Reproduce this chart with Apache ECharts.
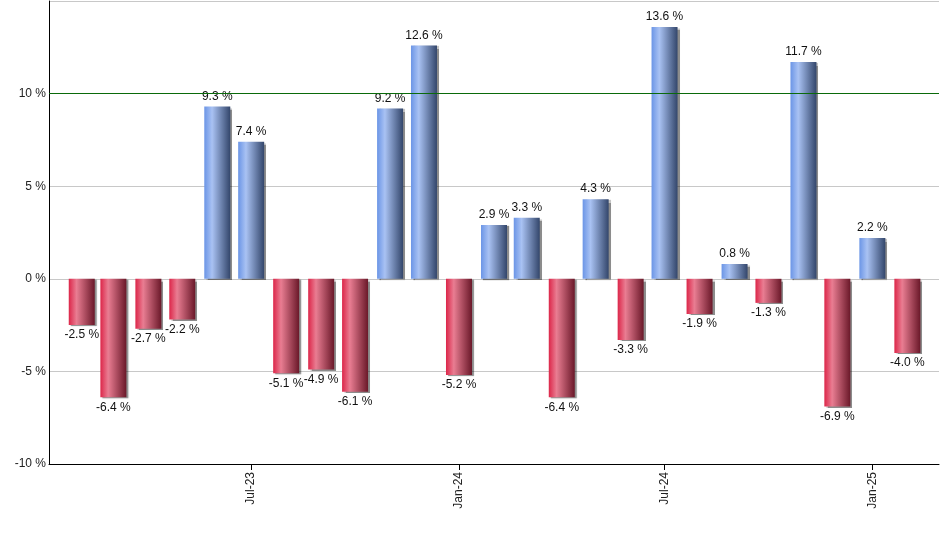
<!DOCTYPE html>
<html>
<head>
<meta charset="utf-8">
<script src="https://cdn.jsdelivr.net/npm/echarts@6/dist/echarts.min.js"></script>
<style>html,body{margin:0;padding:0;background:#fff}#c{width:940px;height:550px}</style>
</head>
<body>
<div id="c"></div>
<script>
var months = ['2023-02-01','2023-03-01','2023-04-01','2023-05-01','2023-06-01','2023-07-01','2023-08-01','2023-09-01','2023-10-01','2023-11-01','2023-12-01','2024-01-01','2024-02-01','2024-03-01','2024-04-01','2024-05-01','2024-06-01','2024-07-01','2024-08-01','2024-09-01','2024-10-01','2024-11-01','2024-12-01','2025-01-01','2025-02-01'];
var values = [-2.5,-6.4,-2.7,-2.2,9.3,7.4,-5.1,-4.9,-6.1,9.2,12.6,-5.2,2.9,3.3,-6.4,4.3,-3.3,13.6,-1.9,0.8,-1.3,11.7,-6.9,2.2,-4.0];
var tickDates = ['2023-07-01','2024-01-01','2024-07-01','2025-01-01'];
var tickLabels = ['Jul-23','Jan-24','Jul-24','Jan-25'];

function ts(s){ var p = s.split('-'); return Date.UTC(+p[0], +p[1]-1, +p[2]); }
var tickTs = tickDates.map(ts);

var blueGrad = new echarts.graphic.LinearGradient(0,0,1,0,[
  {offset:0,color:'#6b95e6'},{offset:0.3,color:'#a9c2f3'},{offset:1,color:'#33466b'}]);
var redGrad = new echarts.graphic.LinearGradient(0,0,1,0,[
  {offset:0,color:'#dc2649'},{offset:0.3,color:'#e97d92'},{offset:1,color:'#6a1829'}]);

var data = months.map(function(m,i){
  var v = values[i];
  return {
    value:[ts(m), v],
    itemStyle:{color: v>=0 ? blueGrad : redGrad},
    label:{position: v>=0 ? 'top' : 'bottom'}
  };
});

var chart = echarts.init(document.getElementById('c'), null, {renderer:'canvas'});
chart.setOption({
  animation:false,
  grid:{left:49, right:1, top:1, bottom:86, containLabel:false},
  xAxis:{
    type:'value',
    min: ts('2023-01-03'),
    max: ts('2025-03-01'),
    axisLine:{show:true, onZero:false, lineStyle:{color:'#000', width:1}},
    axisTick:{show:true, customValues: tickTs, length:6, lineStyle:{color:'#000'}},
    axisLabel:{
      customValues: tickTs,
      rotate:90, margin:8, color:'#222', fontFamily:'Liberation Sans, Arial, sans-serif', fontSize:12,
      formatter:function(v){ var i = tickTs.indexOf(v); return i>=0 ? tickLabels[i] : ''; }
    },
    splitLine:{show:false}
  },
  yAxis:{
    type:'value', min:-10, max:15, interval:5,
    axisLine:{show:true, lineStyle:{color:'#000', width:1}},
    axisTick:{show:false},
    axisLabel:{
      margin:3, color:'#222', fontFamily:'Liberation Sans, Arial, sans-serif', fontSize:12,
      formatter:function(v){ return (v===15) ? '' : v + ' %'; }
    },
    splitLine:{show:true, lineStyle:{color:'#c8c8c8', width:1}}
  },
  series:[{
    type:'bar',
    barWidth:26,
    data:data,
    itemStyle:{shadowColor:'rgba(0,0,0,0.45)', shadowOffsetX:2, shadowOffsetY:1, shadowBlur:1},
    label:{
      show:true, distance:4, color:'#111', fontSize:12,
      fontFamily:'Liberation Sans, Arial, sans-serif',
      formatter:function(p){ return p.value[1].toFixed(1) + ' %'; }
    },
    markLine:{
      silent:true, symbol:['none','none'],
      label:{show:false},
      lineStyle:{color:'#0a6a0a', width:1, type:'solid'},
      data:[{yAxis:10}]
    }
  }]
});
</script>
</body>
</html>
